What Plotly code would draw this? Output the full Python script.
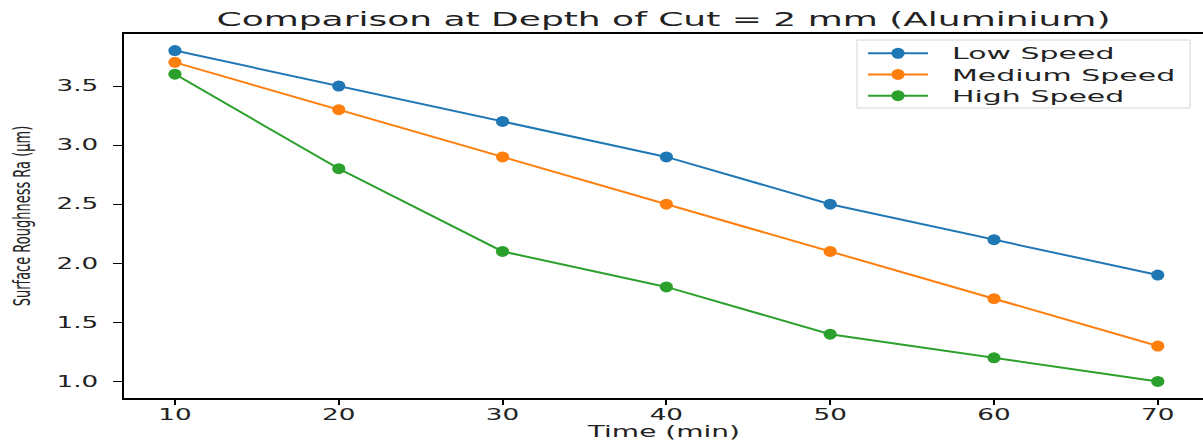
import plotly.graph_objects as go

# Machining time (min) and measured surface roughness Ra (µm) for each spindle speed
time_min = [10, 20, 30, 40, 50, 60, 70]
low_speed = [3.8, 3.5, 3.2, 2.9, 2.5, 2.2, 1.9]
medium_speed = [3.7, 3.3, 2.9, 2.5, 2.1, 1.7, 1.3]
high_speed = [3.6, 2.8, 2.1, 1.8, 1.4, 1.2, 1.0]
y_ticks = [1.0, 1.5, 2.0, 2.5, 3.0, 3.5]

series = [
    ("Low Speed", low_speed, "#1f77b4"),
    ("Medium Speed", medium_speed, "#ff7f0e"),
    ("High Speed", high_speed, "#2ca02c"),
]

fig = go.Figure()
for name, values, color in series:
    fig.add_trace(go.Scatter(
        x=time_min, y=values, name=name, mode="lines+markers",
        line=dict(color=color, width=2),
        marker=dict(color=color, size=11),
    ))

base_font = "DejaVu Sans, Verdana, sans-serif"
ink = "#222222"

fig.update_layout(
    width=1203, height=445,
    margin=dict(l=124, r=0, t=34, b=47),
    paper_bgcolor="white", plot_bgcolor="white",
    font=dict(family=base_font, color=ink, size=16),
    title=dict(
        text="Comparison at Depth of Cut = 2 mm (Aluminium)",
        xref="paper", x=0.5, xanchor="center",
        yref="container", y=0.958, yanchor="middle",
        font=dict(size=20, color=ink, family=base_font),
    ),
    legend=dict(
        x=0.6849, y=0.99, xanchor="left", yanchor="top",
        bgcolor="rgba(0,0,0,0)", borderwidth=0,
        font=dict(size=14, family=base_font, color=ink),
        itemwidth=60,
    ),
    # legend frame
    shapes=[dict(
        type="rect", xref="paper", yref="paper",
        x0=0.6793, x1=0.988, y0=0.7967, y1=0.9835,
        line=dict(color="#d6d6d6", width=1), fillcolor="white", layer="above",
    )],
    showlegend=True,
)

fig.update_xaxes(
    range=[6.89, 72.76], tickvals=time_min, ticktext=[str(t) for t in time_min],
    showgrid=False, zeroline=False,
    showline=True, linecolor="black", linewidth=1.5, mirror=True,
    ticks="outside", ticklen=5, tickcolor="black", tickwidth=1.5,
    ticklabelstandoff=-3,
    tickfont=dict(size=15),
    title=dict(text="Time (min)", font=dict(size=16), standoff=0),
)
fig.update_yaxes(
    range=[0.86, 3.94], tickvals=y_ticks,
    ticktext=[f"{v:.1f}" for v in y_ticks],
    showgrid=False, zeroline=False,
    showline=True, linecolor="black", linewidth=1.5,
    ticks="outside", ticklen=9, tickcolor="black", tickwidth=1.2,
    ticklabelstandoff=12,
    tickfont=dict(size=15),
    title=dict(text="Surface Roughness Ra (μm)", font=dict(size=13), standoff=44),
)

# Widen the glyphs horizontally so the lettering has the same broad look
# as the rest of the figure; markers get the same wide shape.
stretch_js = """
(function () {
  var gd = document.getElementById('{plot_id}');
  var SX = 1.75;
  function stretch(el, sx, sy, anchor, dx, dy) {
    var bb = el.getBBox();
    var cx = anchor === 'start' ? bb.x : (anchor === 'end' ? bb.x + bb.width : bb.x + bb.width / 2);
    var cy = bb.y + bb.height / 2;
    var t = el.getAttribute('transform') || '';
    el.setAttribute('transform', t + ' translate(' + (cx + (dx || 0)) + ',' + (cy + (dy || 0)) +
      ') scale(' + sx + ',' + sy + ') translate(' + (-cx) + ',' + (-cy) + ')');
  }
  function each(sel, sx, sy, anchor, dx, dy) {
    gd.querySelectorAll(sel).forEach(function (el) { stretch(el, sx, sy, anchor, dx, dy); });
  }
  each('.gtitle', 1.8, 1, 'middle');
  each('.xtick text', SX, 1, 'middle');
  each('.ytick text', SX, 1, 'end');
  each('.xtitle', SX, 1, 'middle', 0, -2);
  each('.ytitle', 1, SX, 'middle');
  // legend: let the wider labels spill past the original box
  gd.querySelectorAll('.legend [clip-path]').forEach(function (el) { el.removeAttribute('clip-path'); });
  each('.legendtext', 2.14, 1.14, 'start', 19);
  // markers drawn around their own origin: widen them a little
  gd.querySelectorAll('.scatterlayer .point, .legendpoints .scatterpts').forEach(function (el) {
    var t = el.getAttribute('transform') || '';
    el.setAttribute('transform', t + ' scale(1.2,1)');
  });
})();
"""

fig.write_html("out.html", post_script=stretch_js)
